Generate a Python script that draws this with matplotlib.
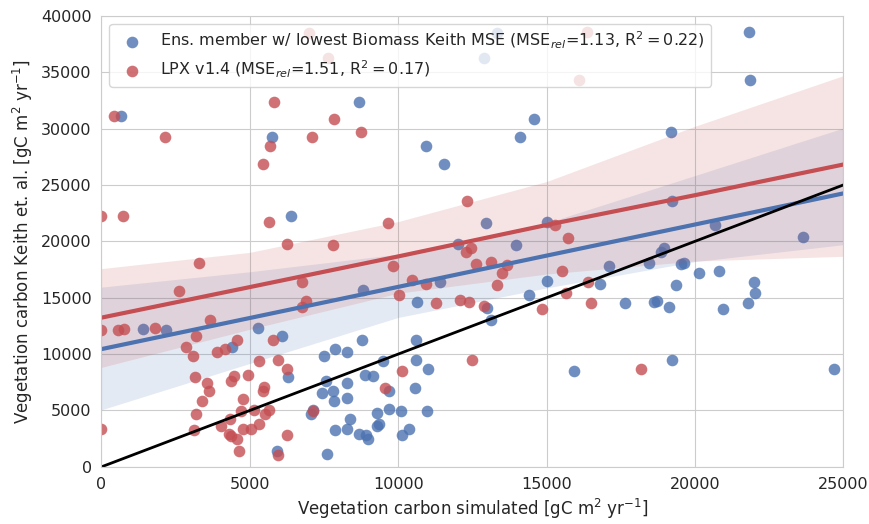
import numpy as np
import matplotlib
matplotlib.use('Agg')
import matplotlib.pyplot as plt
import seaborn as sns

# simulated vs. Keith et al. vegetation carbon
ens_sim = [652, 5744, 8666, 10937, 11543, 6384, 13312, 12885, 21818, 21840,
           14570, 14098, 19177, 12952, 15000, 19233, 20672, 23649, 13952, 17098,
           15026, 16795, 14408, 18458, 18851, 18952, 19514, 19638, 20132, 20806,
           19346, 21986, 22020, 21772, 20930, 18627, 18728, 19121, 17632, 12997,
           13115, 15930, 19222, 24694, 12000, 8823, 11405, 10630, 1405, 2169,
           5281, 6079, 4415, 8770, 10591, 7506, 7866, 8288, 9472, 10597,
           10995, 6292, 7562, 8282, 8878, 9135, 7427, 7810, 7849, 8288,
           9700, 10568, 7134, 7068, 9270, 9686, 10091, 10956, 8382, 7866,
           8259, 8664, 8905, 8990, 9293, 9360, 10113, 10371, 5921, 7585]
ens_obs = [31076, 29253, 32340, 28459, 26872, 22285, 38426, 36250, 38514, 34339,
           30870, 29253, 29694, 21650, 21697, 23579, 21403, 20345, 19698, 17830,
           16523, 16229, 15229, 18081, 19051, 19404, 18022, 18081, 17199, 17405,
           16111, 16405, 15406, 14494, 14024, 14641, 14700, 14200, 14540, 14112,
           13024, 8467, 9467, 8644, 19786, 15641, 16405, 14641, 12260, 12113,
           12350, 11615, 10643, 11247, 11232, 9850, 10438, 10145, 9380, 9468,
           8645, 7940, 7645, 7454, 8190, 8072, 6543, 6763, 5852, 6088,
           6750, 6970, 5070, 4675, 4734, 5100, 4998, 4998, 4263, 3294,
           3382, 2912, 2795, 2500, 3630, 3793, 2839, 3382, 1412, 1104]

lpx_sim = [416, 2136, 5811, 5687, 5429, 7081, 7846, 8734, 0, 731,
           5654, 9666, 12320, 7003, 7643, 16346, 16098, 15278, 15705, 6238,
           7812, 3293, 2619, 6766, 6890, 6744, 9813, 10450, 10928, 10037,
           11270, 12080, 12290, 12460, 12500, 0, 562, 764, 1798, 3675,
           3202, 2865, 3078, 3904, 4157, 4573, 5798, 5309, 5955, 6270,
           3150, 3550, 3629, 4354, 4472, 4944, 4775, 3381, 5433, 5489,
           5504, 5663, 5135, 4708, 4326, 3180, 3129, 4045, 4305, 4382,
           4562, 4776, 5034, 5315, 4635, 5944, 6264, 7124, 9540, 10142,
           0, 12605, 13121, 13678, 13509, 13312, 15503, 16402, 15638, 12391,
           12890, 14829, 16487, 18166]
lpx_obs = [31076, 29253, 32340, 28459, 26872, 29253, 30870, 29694, 22285, 22285,
           21697, 21638, 23579, 38426, 36250, 38514, 34339, 21403, 20300, 19786,
           19698, 18081, 15582, 16405, 14700, 14171, 17846, 16540, 16229, 15229,
           14553, 14759, 19051, 19430, 9440, 12142, 12113, 12260, 12319, 12995,
           11613, 10610, 9836, 10145, 10410, 11247, 11232, 9380, 9440, 8645,
           7940, 7425, 6763, 7645, 8042, 8145, 6058, 5852, 6690, 7087,
           4704, 5086, 5057, 4998, 4263, 4645, 3264, 3602, 2883, 2750,
           2471, 3352, 3352, 3764, 1384, 1089, 2810, 4998, 6968, 8467,
           3381, 18022, 18140, 17934, 17199, 16111, 17405, 16390, 15435, 14630,
           14230, 14040, 14524, 8644]

# regression lines and 95% bands as drawn in the reference
band_x = [0, 5000, 10000, 15000, 20000, 25000]
ens_fit = [10440, 13200, 15960, 18730, 21490, 24250]
ens_lo = [5060, 9170, 13250, 15870, 18200, 19700]
ens_hi = [15935, 17300, 18860, 21630, 25830, 30044]
lpx_fit = [13230, 15940, 18660, 21450, 24090, 26810]
lpx_lo = [8820, 12200, 15400, 17100, 18250, 18670]
lpx_hi = [17580, 19020, 21750, 25300, 30200, 34690]

ens_label = 'Ens. member w/ lowest Biomass Keith MSE (MSE$_{rel}$=1.13, R$^2 = 0.22$)'
lpx_label = 'LPX v1.4 (MSE$_{rel}$=1.51, R$^2 = 0.17$)'

sns.set_style('whitegrid')
plt.rcParams['font.family'] = ['DejaVu Sans']

fig = plt.figure(figsize=(8.7, 5.24), dpi=100)
ax = fig.add_axes([0.1165, 0.109, 0.853, 0.861])

blue = sns.color_palette('deep')[0]
red = sns.color_palette('deep')[3]

for sim, obs, fit, lo, hi, col, lab in [
        (ens_sim, ens_obs, ens_fit, ens_lo, ens_hi, blue, ens_label),
        (lpx_sim, lpx_obs, lpx_fit, lpx_lo, lpx_hi, red, lpx_label)]:
    ax.scatter(sim, obs, s=70, color=col, alpha=0.8, linewidths=0, label=lab)
    ax.fill_between(band_x, lo, hi, color=col, alpha=0.15, linewidth=0)
    ax.plot(band_x, fit, color=col, lw=3)

# 1:1 line
ax.plot([0, 25000], [0, 25000], color='k', lw=2)

ax.set_xlim(0, 25000)
ax.set_ylim(0, 40000)
ax.set_xlabel('Vegetation carbon simulated [gC m$^2$ yr$^{-1}$]', fontsize=12)
ax.set_ylabel('Vegetation carbon Keith et. al. [gC m$^2$ yr$^{-1}$]', fontsize=12)
ax.tick_params(labelsize=11.5)
ax.legend(loc='upper left', fontsize=11.5)

fig.savefig('out.png', dpi=100)
